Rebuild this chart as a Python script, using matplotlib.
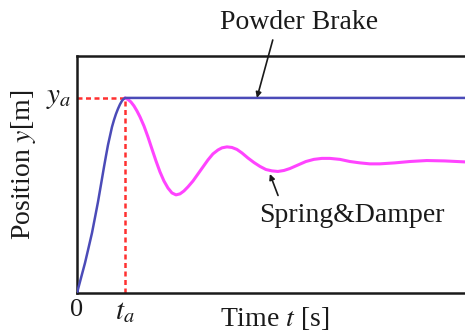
import matplotlib
matplotlib.use('Agg')
import matplotlib.pyplot as plt

# rise (shared by both responses), normalised: t_a = 1, y_a = 1
t_rise = [0, 0.0833, 0.1667, 0.240, 0.3125, 0.375, 0.4375, 0.5, 0.5625, 0.604,
          0.646, 0.6875, 0.729, 0.771, 0.8125, 0.854, 0.896, 0.9375, 0.969, 1.0]
y_rise = [0, 0.077, 0.154, 0.231, 0.308, 0.387, 0.467, 0.556, 0.646, 0.703,
          0.759, 0.805, 0.851, 0.887, 0.918, 0.944, 0.967, 0.985, 0.994, 1.0]

# powder brake holds at y_a
t_brake = [1.0, 8.4]
y_brake = [1.0, 1.0]

# spring & damper oscillation after the peak
t_spring = [1.0, 1.0625, 1.125, 1.1875, 1.25, 1.3125, 1.396, 1.479, 1.5625, 1.646,
            1.729, 1.8125, 1.896, 1.979, 2.0625, 2.146, 2.229, 2.3125, 2.417, 2.521,
            2.625, 2.729, 2.833, 2.9375, 3.021, 3.125, 3.229, 3.333, 3.4375, 3.5625,
            3.6875, 3.8125, 3.9375, 4.0625, 4.1875, 4.3125, 4.4375, 4.604, 4.771, 4.9375,
            5.104, 5.271, 5.479, 5.6875, 5.896, 6.104, 6.3125, 6.625, 6.9375, 7.29,
            7.667, 8.083, 8.4]
y_spring = [1.0, 0.992, 0.979, 0.959, 0.933, 0.903, 0.856, 0.800, 0.738, 0.677,
            0.621, 0.574, 0.538, 0.513, 0.503, 0.508, 0.523, 0.544, 0.574, 0.610,
            0.646, 0.682, 0.713, 0.733, 0.744, 0.749, 0.746, 0.736, 0.718, 0.692,
            0.669, 0.649, 0.633, 0.626, 0.623, 0.628, 0.638, 0.656, 0.674, 0.685,
            0.690, 0.690, 0.685, 0.674, 0.667, 0.662, 0.662, 0.667, 0.674, 0.679,
            0.677, 0.672, 0.672]

t_a = 1.0
y_a = 1.0

plt.rcParams['font.family'] = 'Liberation Serif'
plt.rcParams['mathtext.fontset'] = 'stix'
plt.rcParams['text.color'] = '#1a1a1a'

fig = plt.figure(figsize=(4.65, 3.34), dpi=100)
ax = fig.add_axes([0.1656, 0.1228, 0.8667, 0.7096])

ax.plot(t_spring, y_spring, color='#ff44ff', lw=2.2, zorder=2,
        solid_capstyle='round', solid_joinstyle='round')
ax.plot(t_rise + t_brake, y_rise + y_brake, color='#4b4bb8', lw=1.8, zorder=3,
        solid_joinstyle='round')

ax.plot([0, t_a], [y_a, y_a], color='#ff3030', lw=1.8, ls=(0, (2, 1.4)), zorder=1)
ax.plot([t_a, t_a], [0, y_a], color='#ff3030', lw=1.8, ls=(0, (2, 1.4)), zorder=1)

ax.set_xlim(0, 8.4)
ax.set_ylim(0, 1.215)
ax.set_xticks([])
ax.set_yticks([])
for s in ax.spines.values():
    s.set_linewidth(1.8)
    s.set_color('#1a1a1a')
ax.spines['right'].set_visible(False)

ax.text(0, -0.03, '0', ha='center', va='top', fontsize=19)
ax.text(t_a, -0.03, '$t_a$', ha='center', va='top', fontsize=21)
ax.text(-0.12, y_a, '$y_a$', ha='right', va='center', fontsize=21)

ax.text(4.62, 1.385, 'Powder Brake', ha='center', va='center', fontsize=20)
ax.annotate('', xy=(3.75, 1.0), xytext=(4.08, 1.297), annotation_clip=False,
            arrowprops=dict(arrowstyle='-|>', color='#1a1a1a', lw=1.2,
                            mutation_scale=8, shrinkA=0, shrinkB=0))
ax.text(5.72, 0.395, 'Spring&Damper', ha='center', va='center', fontsize=20)
ax.annotate('', xy=(4.02, 0.61), xytext=(4.19, 0.50),
            arrowprops=dict(arrowstyle='-|>', color='#1a1a1a', lw=1.2,
                            mutation_scale=8, shrinkA=0, shrinkB=0))

fig.text(275 / 465, 1 - 319 / 334, 'Time $t$ [s]', ha='center', va='center', fontsize=20)
fig.text(24 / 465, 1 - 165 / 334, 'Position $y$[m]', ha='center', va='center',
         fontsize=20, rotation=90)

fig.savefig('out.png', dpi=100)
